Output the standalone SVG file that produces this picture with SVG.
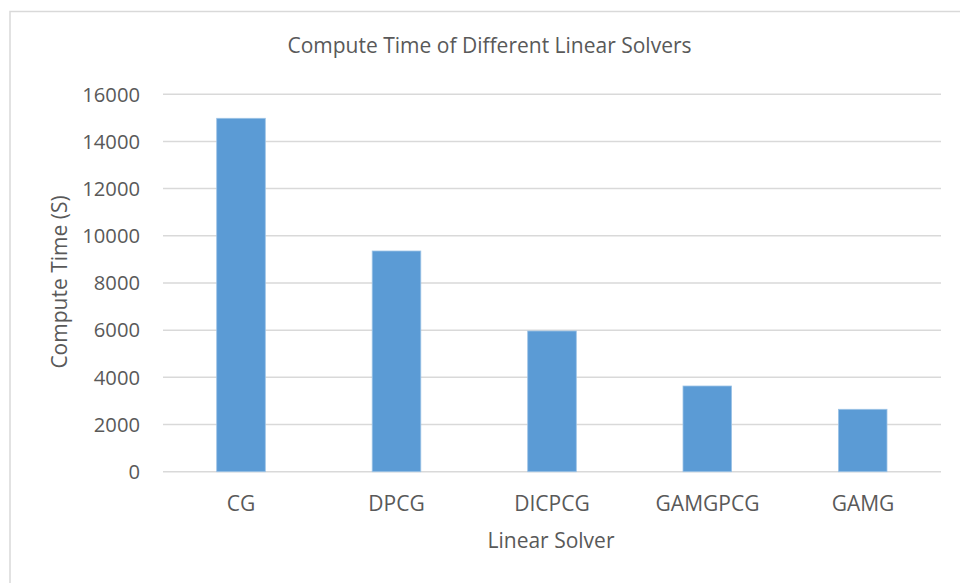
<svg xmlns="http://www.w3.org/2000/svg" width="960" height="583" viewBox="0 0 960 583">
<style>
.t{font-family:"Open Sans","Liberation Sans",sans-serif;fill:#595959}
.tick{font-size:20.2px;text-anchor:end}
.cat{font-size:21px;text-anchor:middle}
.ttl{font-size:21px;text-anchor:middle}
.grid{stroke:#D9D9D9;stroke-width:1.5}
.bar{fill:#5B9BD5;stroke:#9DC3E6;stroke-width:0.8}
</style>
<rect x="0" y="0" width="960" height="583" fill="#FFFFFF"/>
<rect x="10" y="11.5" width="960" height="600" fill="none" stroke="#D9D9D9" stroke-width="1.5"/>
<g id="gridlines">
<line class="grid" x1="163" y1="94.3" x2="941" y2="94.3"/>
<line class="grid" x1="163" y1="141.5" x2="941" y2="141.5"/>
<line class="grid" x1="163" y1="188.6" x2="941" y2="188.6"/>
<line class="grid" x1="163" y1="235.8" x2="941" y2="235.8"/>
<line class="grid" x1="163" y1="283" x2="941" y2="283"/>
<line class="grid" x1="163" y1="330.2" x2="941" y2="330.2"/>
<line class="grid" x1="163" y1="377.3" x2="941" y2="377.3"/>
<line class="grid" x1="163" y1="424.5" x2="941" y2="424.5"/>
<line class="grid" x1="163" y1="471.7" x2="941" y2="471.7"/>
</g>
<g id="y-ticks" class="t tick">
<text x="140" y="101.5">16000</text>
<text x="140" y="148.7">14000</text>
<text x="140" y="195.8">12000</text>
<text x="140" y="243">10000</text>
<text x="140" y="290.2">8000</text>
<text x="140" y="337.4">6000</text>
<text x="140" y="384.5">4000</text>
<text x="140" y="431.7">2000</text>
<text x="140" y="478.9">0</text>
</g>
<g id="bar-CG"><rect class="bar" x="216.7" y="118.3" width="48.6" height="353.4"/></g>
<g id="bar-DPCG"><rect class="bar" x="372.2" y="251" width="48.6" height="220.7"/></g>
<g id="bar-DICPCG"><rect class="bar" x="527.7" y="331" width="48.6" height="140.7"/></g>
<g id="bar-GAMGPCG"><rect class="bar" x="683" y="386" width="48.6" height="85.7"/></g>
<g id="bar-GAMG"><rect class="bar" x="838.4" y="409.3" width="48.6" height="62.4"/></g>
<g id="x-labels" class="t cat">
<text x="241" y="511">CG</text>
<text x="396.5" y="511">DPCG</text>
<text x="552" y="511">DICPCG</text>
<text x="707.5" y="511">GAMGPCG</text>
<text x="863" y="511">GAMG</text>
</g>
<text id="title" class="t ttl" x="489.5" y="53">Compute Time of Different Linear Solvers</text>
<text id="x-title" class="t ttl" x="551" y="548">Linear Solver</text>
<text id="y-title" class="t ttl" transform="translate(67,282) rotate(-90)">Compute Time (S)</text>
</svg>
